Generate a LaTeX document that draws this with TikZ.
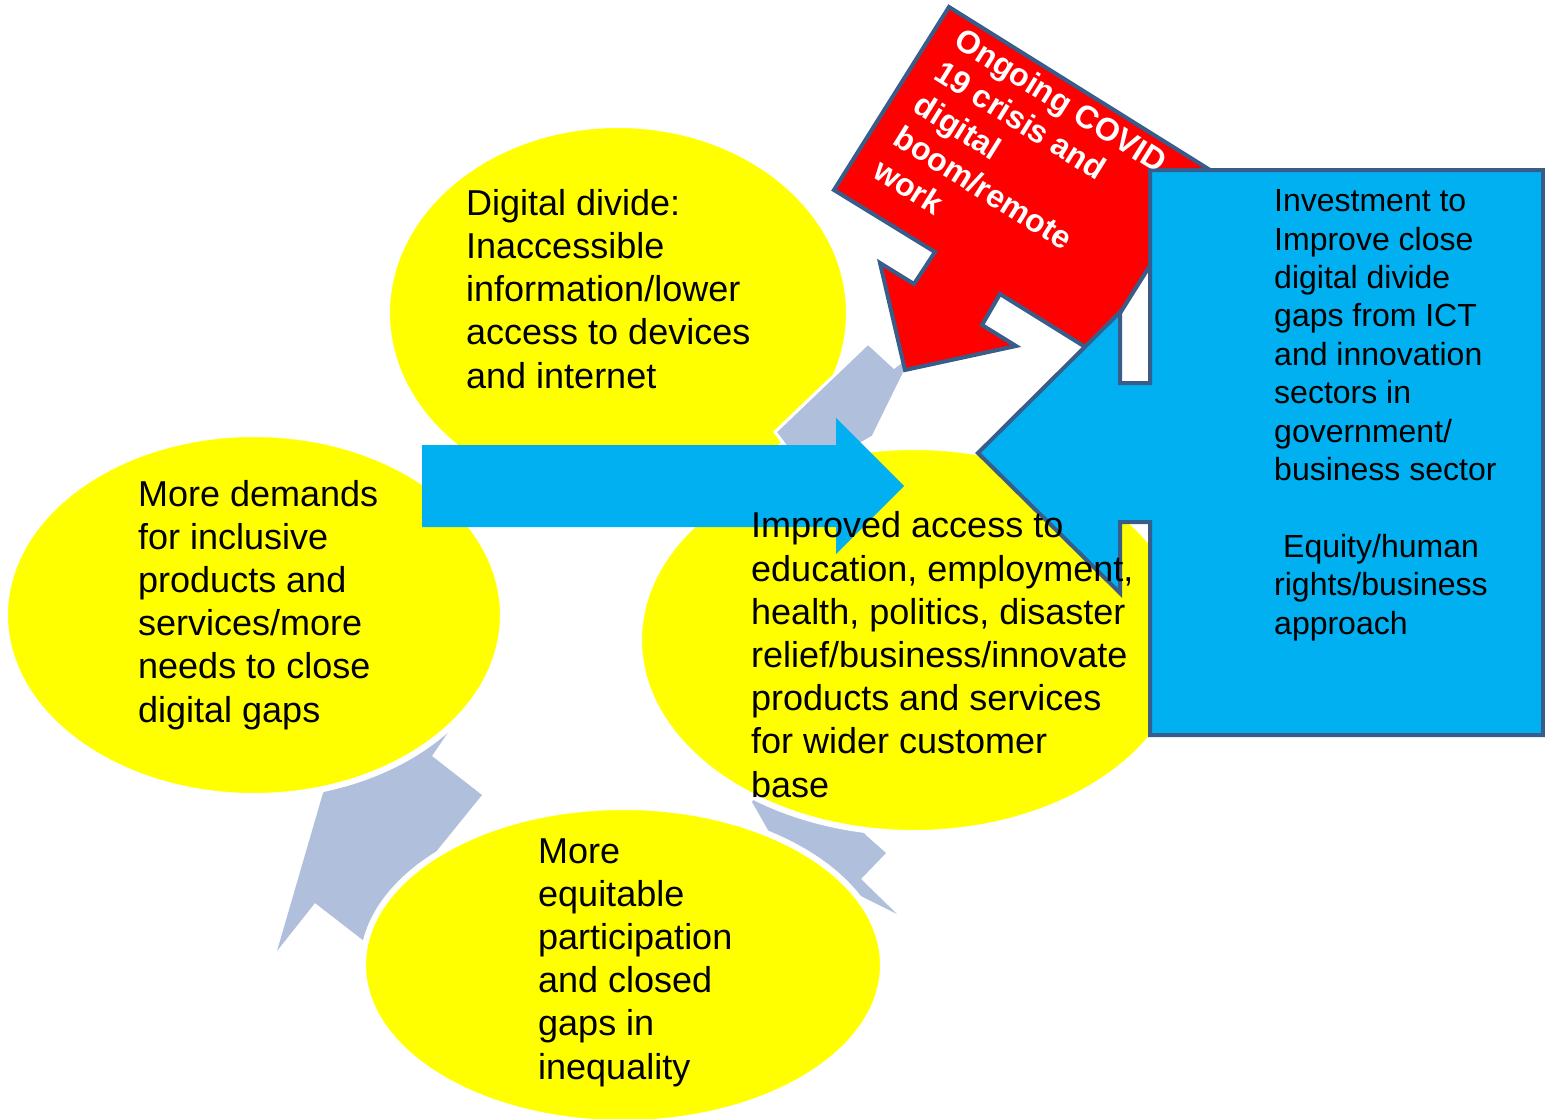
\documentclass[tikz,border=0pt]{standalone}
\usepackage{fontspec}
\setmainfont{Liberation Sans}
\usetikzlibrary{shapes.geometric}

\definecolor{bubbleyellow}{RGB}{255,255,0}
\definecolor{cyclegray}{RGB}{176,192,220}
\definecolor{flowcyan}{RGB}{0,176,240}
\definecolor{alertred}{RGB}{255,0,0}
\definecolor{edgeblue}{RGB}{56,93,138}

\begin{document}
\begin{tikzpicture}[
    x=1pt, y=-1pt,
    bubble/.style={ellipse, fill=bubbleyellow, draw=white, line width=6pt, inner sep=0pt},
    cyclearrow/.style={fill=cyclegray},
    callout/.style={draw=edgeblue, line width=4pt, line join=miter},
    % texts are placed at the baseline of their last line
    bubbletext/.style={anchor=base west, align=left, inner sep=0pt, font=\fontsize{36}{43.2}\selectfont},
    boxtext/.style={anchor=base west, align=left, inner sep=0pt, font=\fontsize{32}{38.4}\selectfont}
]
\useasboundingbox (0,0) rectangle (1545,1119);

% Cycle arrows
\fill[cyclearrow] (752,802) -- (780,851) -- (843,887) -- (897,914) -- (861,879)
    -- (886,853) -- (868,837) -- (830,800) -- (760,790) -- cycle;
\fill[cyclearrow] (453,725) -- (432,756) -- (482,795) -- (435,853) -- (420,900)
    -- (364,941) -- (315,903) -- (277,951) -- (323,793) -- (390,740) -- cycle;

% Nodes
\node[bubble, minimum width=462pt, minimum height=376pt] (divide) at (618,313) {};
\node[bubble, minimum width=498pt, minimum height=362pt] (demand) at (254,615) {};
\node[bubble, minimum width=550pt, minimum height=386pt] (access) at (914,640) {};
\node[bubble, minimum width=520pt, minimum height=316pt] (equity) at (623,965) {};

% Cycle arrow from divide to access
\filldraw[cyclearrow, draw=white, line width=3pt] (790,452) -- (775,432) -- (868,343)
    -- (894,367) -- (906,358) -- (904,374) -- (873,437) -- (850,450) -- cycle;

% Arrow from demand to access
\fill[flowcyan] (422,445) -- (836,445) -- (836,418) -- (904,486) -- (836,554)
    -- (836,527) -- (422,527) -- cycle;

% Callouts
\filldraw[callout, fill=alertred] (949,7) -- (1210,170) -- (1095,353) -- (1000,294)
    -- (982,325) -- (1016,346) -- (905,370) -- (880,263) -- (914,284)
    -- (935,252) -- (834,190) -- cycle;
\filldraw[callout, fill=flowcyan] (1150,170) -- (1543,170) -- (1543,735) -- (1150,735)
    -- (1150,522) -- (1120,522) -- (1120,593) -- (978,453) -- (1120,312)
    -- (1120,383) -- (1150,383) -- cycle;

% Texts
\node[bubbletext] (dividetext) at (466,388)
    {Digital divide:\\Inaccessible\\information/lower\\access to devices\\and internet};
\node[bubbletext] (demandtext) at (138,722)
    {More demands\\for inclusive\\products and\\services/more\\needs to close\\digital gaps};
\node[bubbletext] (accesstext) at (751,797)
    {Improved access to\\education, employment,\\health, politics, disaster\\relief/business/innovate\\products and services\\for wider customer\\base};
\node[bubbletext] (equitytext) at (538,1079)
    {More\\equitable\\participation\\and closed\\gaps in\\inequality};
\node[boxtext] (investtext) at (1274,634)
    {Investment to\\Improve close\\digital divide\\gaps from ICT\\and innovation\\sectors in\\government/\\business sector\\[38.4pt]\hspace*{9pt}Equity/human\\rights/business\\approach};
\node[boxtext, text=white, rotate=-32, font=\bfseries\fontsize{32}{38.4}\selectfont] (covidtext) at (871,176)
    {Ongoing COVID\\19 crisis and\\digital\\boom/remote\\work};

\end{tikzpicture}
\end{document}
